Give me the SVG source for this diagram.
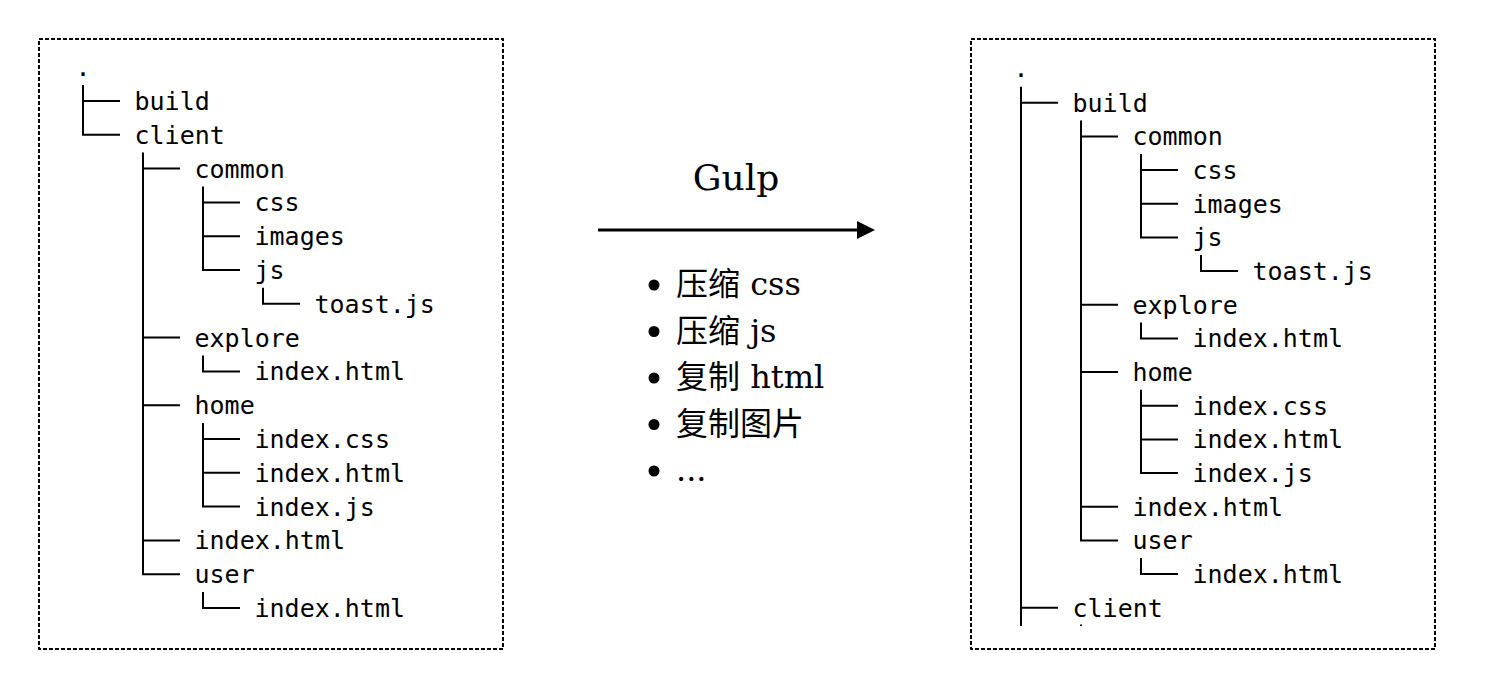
<svg xmlns="http://www.w3.org/2000/svg" width="1490" height="682" viewBox="0 0 1490 682">
<style>
  .panel { fill: none; stroke: #000; stroke-width: 2; stroke-dasharray: 4 2; }
  .t { font-family: "DejaVu Sans Mono", "Liberation Mono", monospace; font-size: 25px; fill: #000; }
  .ln { fill: none; stroke: #000; stroke-width: 2; }
  .mid { font-family: "DejaVu Serif", "Noto Sans CJK SC", serif; font-size: 32px; fill: #000; }
  .gulp { font-family: "DejaVu Serif", serif; font-size: 36px; fill: #000; }
</style>
<defs>
  <marker id="arrow" markerWidth="6" markerHeight="6" refX="0" refY="3" orient="auto" markerUnits="strokeWidth">
    <path d="M0,0 L6,3 L0,6 Z" fill="#000"/>
  </marker>
</defs>
<rect width="1490" height="682" fill="#fff"/>

<!-- panels -->
<rect id="left-panel" class="panel" x="39" y="39" width="464" height="610"/>
<rect id="right-panel" class="panel" x="971" y="39" width="464" height="610"/>

<!-- connectors -->
<g id="connectors">
  <!-- left tree lines -->
  <path class="ln" d="M83 85 V134.8 H120 M83 101 H120"/>
  <path class="ln" d="M143 152.6 V574.2 H180 M143 168.6 H180 M143 337.6 H180 M143 405.2 H180 M143 540.4 H180"/>
  <path class="ln" d="M203 186.4 V270 H240 M203 202.4 H240 M203 236.2 H240"/>
  <path class="ln" d="M263 287.8 V303.8 H300"/>
  <path class="ln" d="M203 355.4 V371.4 H240"/>
  <path class="ln" d="M203 423 V506.6 H240 M203 439 H240 M203 472.8 H240"/>
  <path class="ln" d="M203 592 V608 H240"/>
  <!-- right tree lines -->
  <path class="ln" d="M1021 86.7 V626 M1021 102.7 H1058 M1021 607.8 H1058"/>
  <path class="ln" d="M1081 120.4 V540.4 H1118 M1081 136.4 H1118 M1081 304.7 H1118 M1081 372.1 H1118 M1081 506.7 H1118"/>
  <path class="ln" d="M1141 154 V237.4 H1178 M1141 170 H1178 M1141 203.7 H1178"/>
  <path class="ln" d="M1201 255.1 V271.1 H1238"/>
  <path class="ln" d="M1141 322.4 V338.4 H1178"/>
  <path class="ln" d="M1141 389.7 V473.1 H1178 M1141 405.7 H1178 M1141 439.4 H1178"/>
  <path class="ln" d="M1141 558.1 V574.1 H1178"/>
  <path class="ln" d="M1081 624.6 V626"/>
  <!-- gulp arrow -->
  <line x1="598" y1="230" x2="857" y2="230" stroke="#000" stroke-width="3" marker-end="url(#arrow)"/>
</g>

<!-- left tree (client source) -->
<g id="left-tree">
  <g id="l-root"><text class="t" x="83" y="75.5" text-anchor="middle">.</text></g>
  <g id="l-build"><text class="t" x="134.5" y="110">build</text></g>
  <g id="l-client"><text class="t" x="134.5" y="143.8">client</text></g>
  <g id="l-common"><text class="t" x="194.5" y="177.6">common</text></g>
  <g id="l-css"><text class="t" x="254.5" y="211.4">css</text></g>
  <g id="l-images"><text class="t" x="254.5" y="245.2">images</text></g>
  <g id="l-js"><text class="t" x="254.5" y="279">js</text></g>
  <g id="l-toast"><text class="t" x="314.5" y="312.8">toast.js</text></g>
  <g id="l-explore"><text class="t" x="194.5" y="346.6">explore</text></g>
  <g id="l-explore-index"><text class="t" x="254.5" y="380.4">index.html</text></g>
  <g id="l-home"><text class="t" x="194.5" y="414.2">home</text></g>
  <g id="l-home-css"><text class="t" x="254.5" y="448">index.css</text></g>
  <g id="l-home-html"><text class="t" x="254.5" y="481.8">index.html</text></g>
  <g id="l-home-js"><text class="t" x="254.5" y="515.6">index.js</text></g>
  <g id="l-index"><text class="t" x="194.5" y="549.4">index.html</text></g>
  <g id="l-user"><text class="t" x="194.5" y="583.2">user</text></g>
  <g id="l-user-index"><text class="t" x="254.5" y="617">index.html</text></g>
</g>

<!-- middle: gulp tasks -->
<g id="gulp">
  <text class="gulp" x="736" y="189.5" text-anchor="middle">Gulp</text>
</g>
<g id="tasks">
  <circle cx="654" cy="285" r="5.5" fill="#000"/>
  <circle cx="654" cy="331.5" r="5.5" fill="#000"/>
  <circle cx="654" cy="378" r="5.5" fill="#000"/>
  <circle cx="654" cy="424.5" r="5.5" fill="#000"/>
  <circle cx="654" cy="471" r="5.5" fill="#000"/>
  <text class="mid" x="676" y="295">压缩 css</text>
  <text class="mid" x="676" y="341.5">压缩 js</text>
  <text class="mid" x="676" y="388">复制 html</text>
  <text class="mid" x="676" y="434.5">复制图片</text>
  <text class="mid" x="676" y="481">...</text>
</g>

<!-- right tree (build output) -->
<g id="right-tree">
  <g id="r-root"><text class="t" x="1021" y="77" text-anchor="middle">.</text></g>
  <g id="r-build"><text class="t" x="1072.5" y="111.7">build</text></g>
  <g id="r-common"><text class="t" x="1132.5" y="145.4">common</text></g>
  <g id="r-css"><text class="t" x="1192.5" y="179">css</text></g>
  <g id="r-images"><text class="t" x="1192.5" y="212.7">images</text></g>
  <g id="r-js"><text class="t" x="1192.5" y="246.4">js</text></g>
  <g id="r-toast"><text class="t" x="1252.5" y="280.1">toast.js</text></g>
  <g id="r-explore"><text class="t" x="1132.5" y="313.7">explore</text></g>
  <g id="r-explore-index"><text class="t" x="1192.5" y="347.4">index.html</text></g>
  <g id="r-home"><text class="t" x="1132.5" y="381.1">home</text></g>
  <g id="r-home-css"><text class="t" x="1192.5" y="414.7">index.css</text></g>
  <g id="r-home-html"><text class="t" x="1192.5" y="448.4">index.html</text></g>
  <g id="r-home-js"><text class="t" x="1192.5" y="482.1">index.js</text></g>
  <g id="r-index"><text class="t" x="1132.5" y="515.7">index.html</text></g>
  <g id="r-user"><text class="t" x="1132.5" y="549.4">user</text></g>
  <g id="r-user-index"><text class="t" x="1192.5" y="583.1">index.html</text></g>
  <g id="r-client"><text class="t" x="1072.5" y="616.8">client</text></g>
</g>
</svg>
